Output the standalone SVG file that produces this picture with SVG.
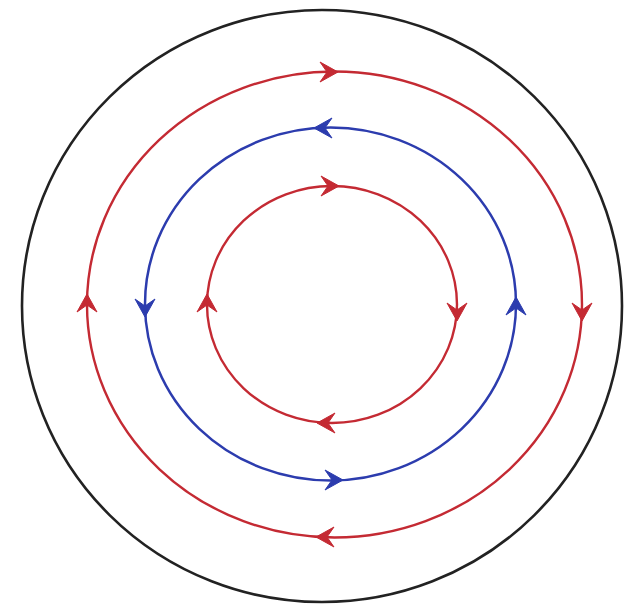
<svg xmlns="http://www.w3.org/2000/svg" xmlns:xlink="http://www.w3.org/1999/xlink" width="627" height="607" viewBox="0 0 627 607">
<style>
.red{fill:none;stroke:#c42a33;stroke-width:2.4}
.blue{fill:none;stroke:#2c3cae;stroke-width:2.5}
.blk{fill:none;stroke:#222;stroke-width:2.6}
.rh{fill:#c42a33;stroke:#c42a33;stroke-width:1;stroke-linejoin:miter}
.bh{fill:#2c3cae;stroke:#2c3cae;stroke-width:1;stroke-linejoin:miter}
</style>
<defs>
<path id="ah" d="M0,0 L-18,-10 L-11,0 L-18,10 Z"/>
</defs>
<rect width="627" height="607" fill="#fff"/>
<g id="boundary"><ellipse class="blk" cx="322" cy="306" rx="300" ry="296"/></g>
<g id="outer-loop"><ellipse class="red" cx="334.5" cy="304.5" rx="247.5" ry="233"/></g>
<g id="middle-loop"><ellipse class="blue" cx="330.5" cy="304" rx="185.5" ry="176.5"/></g>
<g id="inner-loop"><ellipse class="red" cx="332" cy="304.5" rx="125" ry="118.5"/></g>
<g id="connectors">
<use xlink:href="#ah" class="rh" transform="translate(338,72)"/>
<use xlink:href="#ah" class="rh" transform="translate(582,321) rotate(90)"/>
<use xlink:href="#ah" class="rh" transform="translate(316,537) rotate(180)"/>
<use xlink:href="#ah" class="rh" transform="translate(87,294) rotate(-90)"/>
<use xlink:href="#ah" class="bh" transform="translate(314,128) rotate(180)"/>
<use xlink:href="#ah" class="bh" transform="translate(145,317) rotate(90)"/>
<use xlink:href="#ah" class="bh" transform="translate(343,480)"/>
<use xlink:href="#ah" class="bh" transform="translate(516,297) rotate(-90)"/>
<use xlink:href="#ah" class="rh" transform="translate(339,186)"/>
<use xlink:href="#ah" class="rh" transform="translate(457,321) rotate(90)"/>
<use xlink:href="#ah" class="rh" transform="translate(317,423) rotate(180)"/>
<use xlink:href="#ah" class="rh" transform="translate(207,294) rotate(-90)"/>
</g>
</svg>
